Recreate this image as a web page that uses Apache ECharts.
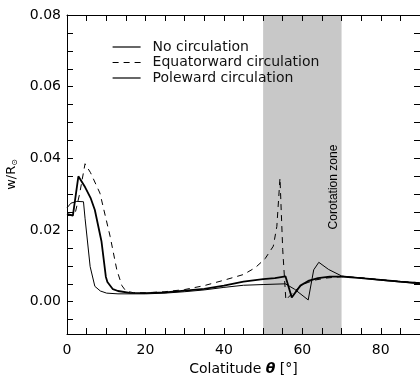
<!DOCTYPE html>
<html>
<head>
<meta charset="utf-8">
<script src="https://cdn.jsdelivr.net/npm/echarts@6/dist/echarts.min.js"></script>
<style>
  html, body { margin: 0; padding: 0; background: #fff; }
  #chart { width: 420px; height: 381px; }
</style>
</head>
<body>
<div id="chart"></div>
<script>
// colatitude (deg) and w/R values
var noCircX = [0, 1.5, 2.9, 4.6, 6, 7.1, 8.8, 9.9, 10.3, 11.7, 13, 16, 20, 25, 30, 35, 40, 45, 50, 53, 55.7, 57.3, 59.5, 61.5, 64, 67, 70, 75, 80, 85, 90];
var noCircY = [0.0245, 0.0240, 0.0350, 0.0320, 0.0290, 0.0256, 0.0168, 0.0070, 0.0055, 0.0035, 0.0030, 0.0025, 0.0024, 0.0026, 0.0031, 0.0036, 0.0045, 0.0056, 0.0063, 0.0066, 0.0071, 0.0012, 0.0045, 0.0058, 0.0066, 0.0070, 0.0070, 0.0066, 0.0061, 0.0056, 0.0052];

var eqX = [0, 2, 3.2, 4.6, 6, 8.4, 11, 12.7, 14, 15, 17, 20, 25, 30, 35, 40, 45, 48, 50.5, 52.6, 53.5, 54.3, 55, 55.8, 58, 60.5, 63, 66, 70, 75, 80, 85, 90];
var eqY = [0.0240, 0.0243, 0.0300, 0.0385, 0.0360, 0.0303, 0.0182, 0.0089, 0.0045, 0.0030, 0.0025, 0.0025, 0.0028, 0.0034, 0.0045, 0.0060, 0.0076, 0.0095, 0.0120, 0.0155, 0.0210, 0.0345, 0.0145, 0.0005, 0.0030, 0.0050, 0.0060, 0.0066, 0.0070, 0.0067, 0.0062, 0.0057, 0.0053];

var poleX = [0, 1, 2.5, 4.2, 4.6, 5.9, 7.1, 8.5, 10.1, 13, 20, 25, 30, 35, 40, 45, 50, 55.7, 58, 61.5, 62.9, 64.2, 66.7, 70, 75, 80, 85, 90];
var poleY = [0.0262, 0.0275, 0.0280, 0.0279, 0.0233, 0.0098, 0.0043, 0.0030, 0.0024, 0.0022, 0.0022, 0.0024, 0.0028, 0.0033, 0.0040, 0.0046, 0.0048, 0.0050, 0.0035, 0.0005, 0.0089, 0.0110, 0.0090, 0.0072, 0.0066, 0.0060, 0.0055, 0.0050];

var zoneRange = [50, 70];
var seriesNames = ['No circulation', 'Equatorward circulation', 'Poleward circulation'];

// y tick labels and tick positions
var yLabels = [0, 0.02, 0.04, 0.06, 0.08];
var yTicks = [-0.005, 0, 0.005, 0.01, 0.015, 0.02, 0.025, 0.03, 0.035, 0.04, 0.045, 0.05, 0.055, 0.06, 0.065, 0.07, 0.075, 0.08];

function pairs(xs, ys) {
  return xs.map(function (x, i) { return [x, ys[i]]; });
}

var font = 'DejaVu Sans';
var chart = echarts.init(document.getElementById('chart'));

var lineBlack = { show: true, onZero: false, lineStyle: { color: '#000', width: 1 } };

chart.setOption({
  animation: false,
  backgroundColor: '#fff',
  grid: { left: 67, right: 0, top: 15, bottom: 47, outerBoundsMode: 'none', containLabel: false },
  legend: {
    orient: 'vertical',
    left: 107,
    top: 35,
    itemWidth: 28,
    itemHeight: 14,
    itemGap: 1.5,
    data: seriesNames,
    itemStyle: { opacity: 0 },
    lineStyle: { width: 1.2 },
    textStyle: { fontFamily: font, fontSize: 14, color: '#111', padding: [0, 0, 0, 7] }
  },
  xAxis: [
    {
      type: 'value', min: 0, max: 90, interval: 20, z: 10,
      name: '{a|Colatitude }{b|θ}{a| [°]}',
      nameLocation: 'middle', nameGap: 27,
      nameTextStyle: {
        rich: {
          a: { fontFamily: font, fontSize: 14, color: '#000' },
          b: { fontFamily: font, fontSize: 14, color: '#000', fontWeight: 'bold', fontStyle: 'italic' }
        }
      },
      axisLine: lineBlack,
      axisTick: { show: true, inside: true, length: 6, lineStyle: { color: '#000' } },
      minorTick: { show: true, splitNumber: 4, length: 6, lineStyle: { color: '#000' } },
      splitLine: { show: false },
      axisLabel: { fontFamily: font, fontSize: 14, color: '#000', margin: 9, showMaxLabel: false }
    },
    {
      type: 'value', min: 0, max: 90, interval: 20, position: 'top', z: 10,
      axisLine: lineBlack,
      axisTick: { show: true, inside: true, length: 6, lineStyle: { color: '#000' } },
      minorTick: { show: true, splitNumber: 4, length: 6, lineStyle: { color: '#000' } },
      splitLine: { show: false },
      axisLabel: { show: false }
    }
  ],
  yAxis: [
    {
      type: 'value', min: -0.009, max: 0.08, z: 10,
      name: '{a|w/R}{b|⊙}',
      nameLocation: 'middle', nameGap: 45,
      nameTextStyle: {
        rich: {
          a: { fontFamily: font, fontSize: 13, color: '#000' },
          b: { fontFamily: font, fontSize: 8, color: '#000', verticalAlign: 'bottom', padding: [6, 0, 0, 0] }
        }
      },
      axisLine: lineBlack,
      axisTick: { show: true, inside: true, length: 6, lineStyle: { color: '#000' }, customValues: yTicks },
      splitLine: { show: false },
      axisLabel: {
        fontFamily: font, fontSize: 14, color: '#000', margin: 6,
        customValues: yLabels,
        formatter: function (v) { return v.toFixed(2); }
      }
    },
    {
      type: 'value', min: -0.009, max: 0.08, position: 'right', z: 10,
      axisLine: lineBlack,
      axisTick: { show: true, inside: true, length: 6, lineStyle: { color: '#000' }, customValues: yTicks },
      splitLine: { show: false },
      axisLabel: { show: false, customValues: yLabels }
    }
  ],
  series: [
    {
      name: 'zone', type: 'line', data: [], z: 1, silent: true,
      markArea: {
        silent: true,
        itemStyle: { color: '#c8c8c8' },
        data: [[{ xAxis: zoneRange[0] }, { xAxis: zoneRange[1] }]]
      },
      markPoint: {
        symbol: 'circle', symbolSize: 0,
        label: {
          show: true, rotate: 90, position: 'inside', align: 'center', verticalAlign: 'middle',
          formatter: 'Corotation zone',
          fontFamily: 'Liberation Sans', fontSize: 12, color: '#000'
        },
        data: [{ coord: [68, 0.032] }]
      }
    },
    {
      name: seriesNames[0], type: 'line', data: pairs(noCircX, noCircY),
      symbol: 'none', z: 3, color: '#000',
      lineStyle: { color: '#000', width: 1.8 }
    },
    {
      name: seriesNames[1], type: 'line', data: pairs(eqX, eqY),
      symbol: 'none', z: 3, color: '#000',
      lineStyle: { color: '#000', width: 1, type: [6, 5] }
    },
    {
      name: seriesNames[2], type: 'line', data: pairs(poleX, poleY),
      symbol: 'none', z: 3, color: '#000',
      lineStyle: { color: '#000', width: 1 }
    }
  ]
});
</script>
</body>
</html>
